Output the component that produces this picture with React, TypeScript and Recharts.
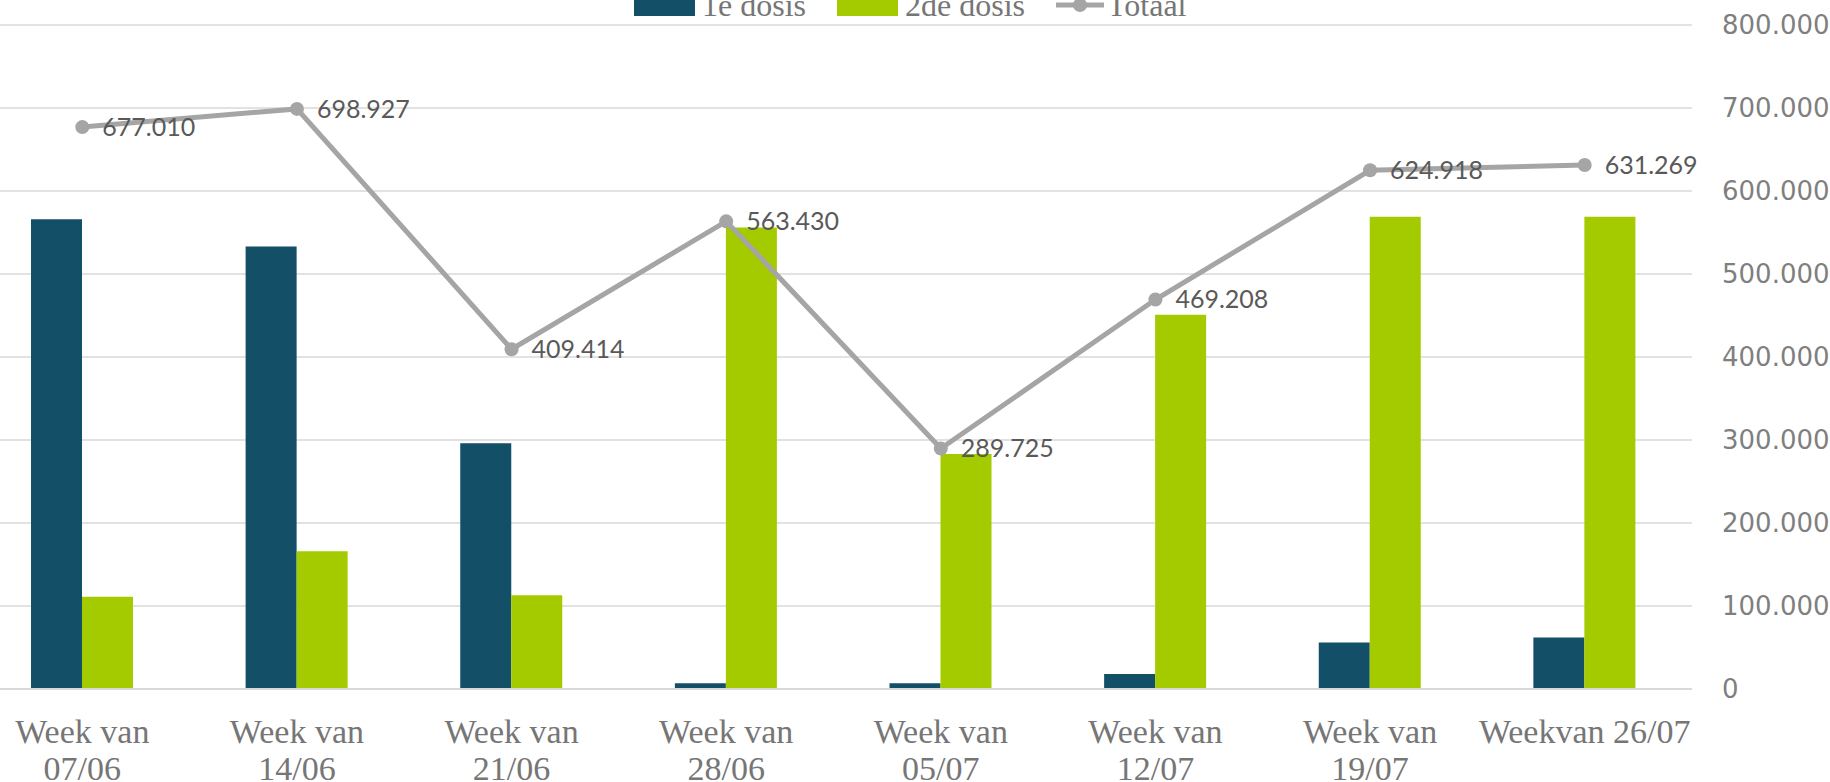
import React from "react"
import { ComposedChart, Bar, Line, XAxis, YAxis, CartesianGrid, Legend, LabelList } from "recharts"

const weeks = [
  "Week van 07/06",
  "Week van 14/06",
  "Week van 21/06",
  "Week van 28/06",
  "Week van 05/07",
  "Week van 12/07",
  "Week van 19/07",
  "Weekvan 26/07",
]
const eersteDosis = [566000, 533000, 296000, 7000, 7000, 18000, 56000, 62000]
const tweedeDosis = [111000, 166000, 113000, 556000, 283000, 451000, 569000, 569000]
const totaal = [677010, 698927, 409414, 563430, 289725, 469208, 624918, 631269]
const yTicks = [0, 100000, 200000, 300000, 400000, 500000, 600000, 700000, 800000]

const data = weeks.map((week, i) => ({
  week,
  eerste: eersteDosis[i],
  tweede: tweedeDosis[i],
  totaal: totaal[i],
}))

const nl = (v: number) => String(Math.round(v)).replace(/\B(?=(\d{3})+(?!\d))/g, ".")

const serif = "'Liberation Serif', serif"

function WeekTick({ x, y, payload }: any) {
  const label: string = payload.value
  const lines = label.startsWith("Week van ") ? ["Week van", label.slice(9)] : [label]
  return (
    <g>
      {lines.map((l, i) => (
        <text key={i} x={x} y={y + 54 + i * 37} textAnchor="middle" fill="#767676" fontFamily={serif} fontSize={34}>
          {l}
        </text>
      ))}
    </g>
  )
}

function renderLegend(props: any) {
  const { payload } = props
  return (
    <div style={{ display: "flex", alignItems: "center", fontFamily: serif, fontSize: 32, lineHeight: "32px", color: "#767676", whiteSpace: "nowrap" }}>
      {payload.map((p: any, i: number) => (
        <div key={i} style={{ display: "flex", alignItems: "center", marginRight: 31 }}>
          {p.type === "line" ? (
            <svg width={48} height={22} style={{ marginRight: 3 }}>
              <line x1={0} y1={11} x2={48} y2={11} stroke="#a5a5a5" strokeWidth={5} />
              <circle cx={24} cy={11} r={7} fill="#a5a5a5" />
            </svg>
          ) : (
            <div style={{ width: 61, height: 22, background: p.color, marginRight: 7 }} />
          )}
          <span>{p.value}</span>
        </div>
      ))}
    </div>
  )
}

export default function App() {
  return (
    <div style={{ position: "absolute", left: 0, top: 0, width: 1830, height: 782, overflow: "hidden", background: "#fff" }}>
      <div style={{ position: "absolute", left: -60, top: 0 }}>
        <ComposedChart width={1890} height={782} data={data} margin={{ top: 25, right: 0, left: 35, bottom: 0 }} barGap={0}>
          <CartesianGrid vertical={false} stroke="#d9d9d9" strokeWidth={1.5} />
          <XAxis
            dataKey="week"
            height={93}
            interval={0}
            tickLine={false}
            tickSize={0}
            tickMargin={0}
            axisLine={{ stroke: "#d9d9d9", strokeWidth: 2 }}
            tick={<WeekTick />}
          />
          <YAxis
            orientation="right"
            width={138}
            domain={[0, 800000]}
            ticks={yTicks}
            axisLine={false}
            tickLine={false}
            tickSize={0}
            tickMargin={30}
            tickFormatter={nl}
            tick={{ fill: "#7f7f7f", fontSize: 26, fontFamily: "'DejaVu Sans', sans-serif", textAnchor: "start" }}
          />
          <Legend
            verticalAlign="middle"
            align="center"
            content={renderLegend}
            wrapperStyle={{ left: 694, top: -11, width: "auto", height: 32 }}
          />
          <Bar dataKey="eerste" name="1e dosis" fill="#134f66" barSize={51} isAnimationActive={false} legendType="rect" />
          <Bar dataKey="tweede" name="2de dosis" fill="#a3cb00" barSize={51} isAnimationActive={false} legendType="rect" />
          <Line
            dataKey="totaal"
            name="Totaal"
            type="linear"
            stroke="#a5a5a5"
            strokeWidth={5}
            dot={{ r: 7, fill: "#a5a5a5", stroke: "none" }}
            activeDot={false}
            legendType="line"
            isAnimationActive={false}
          >
            <LabelList dataKey="totaal" position="right" offset={20} formatter={(v: any) => nl(Number(v))} fill="#595959" fontSize={25} fontFamily="Lato, sans-serif" />
          </Line>
        </ComposedChart>
      </div>
    </div>
  )
}
